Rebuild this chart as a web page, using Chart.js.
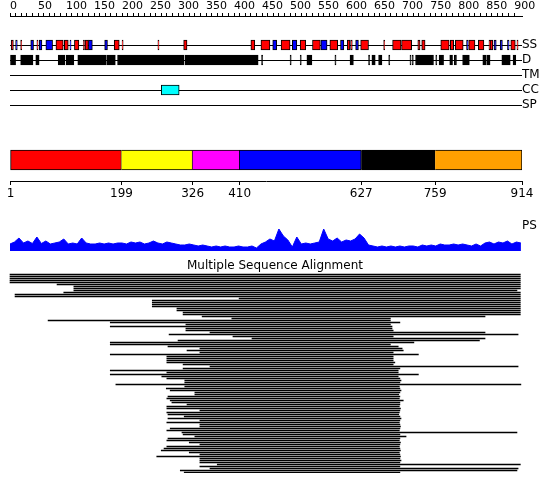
<!DOCTYPE html>
<html>
<head>
<meta charset="utf-8">
<script src="https://cdn.jsdelivr.net/npm/chart.js@4.4.1/dist/chart.umd.min.js"></script>
<style>
  body { margin: 0; background: #fff; }
  #page { position: relative; width: 550px; height: 495px; overflow: hidden; }
  canvas { position: absolute; left: 0; }
</style>
</head>
<body>
<div id="page">
  <canvas id="tracks" width="550" height="115" style="top:0"></canvas>
  <canvas id="domains" width="550" height="65" style="top:140px"></canvas>
  <canvas id="profile" width="550" height="36" style="top:215px"></canvas>
  <canvas id="msa" width="550" height="214" style="top:259px"></canvas>
</div>
<script>
// ---- data (residue numbers) ----
const seqLength = 914;
const trackNames = ["SS", "D", "TM", "CC", "SP"];

// secondary structure: H = helix, E = strand
const ssStart = [2, 10, 19, 37, 48, 52, 64, 82, 97, 107, 115, 131, 134, 140, 169, 186, 200, 264, 310, 430, 448, 469, 484, 504, 518, 540, 555, 571, 590, 602, 608, 617, 626, 667, 683, 699, 728, 735, 769, 786, 795, 815, 819, 836, 855, 857, 864, 875, 888, 894, 905];
const ssEnd   = [6, 13, 21, 42, 50, 57, 76, 95, 104, 109, 123, 133, 140, 147, 174, 195, 202, 266, 316, 437, 464, 476, 500, 512, 528, 554, 566, 585, 596, 607, 611, 622, 640, 669, 698, 717, 732, 741, 784, 792, 809, 818, 830, 846, 857, 862, 868, 879, 891, 902, 907];
const ssType  = ["H", "E", "H", "E", "H", "E", "E", "H", "H", "E", "H", "H", "H", "E", "E", "H", "H", "H", "H", "H", "H", "E", "H", "E", "H", "H", "E", "H", "E", "H", "H", "E", "H", "H", "H", "H", "H", "H", "H", "H", "H", "E", "H", "H", "H", "H", "E", "E", "E", "H", "H"];

// disorder
const disStart = [0, 19, 46, 86, 100, 121, 173, 192, 313, 449, 500, 518, 530, 580, 607, 640, 646, 658, 676, 714, 718, 724, 760, 766, 785, 793, 808, 844, 851, 878, 898];
const disEnd   = [10, 41, 52, 98, 114, 172, 188, 311, 443, 451, 502, 520, 539, 582, 613, 642, 652, 664, 678, 716, 720, 756, 762, 774, 790, 797, 820, 850, 857, 893, 903];

// coiled coil
const ccStart = [270];
const ccEnd   = [302];

// domain boundaries
const domainStart = [1, 199, 326, 410, 627, 759];
const domainEnd   = [199, 326, 410, 627, 759, 914];

// PS profile, one reading every 8 residues
const psStep = 8;
const psValues = [0.28, 0.36, 0.52, 0.32, 0.40, 0.30, 0.56, 0.30, 0.40, 0.28, 0.32, 0.36, 0.48, 0.28, 0.32, 0.28,
  0.52, 0.32, 0.28, 0.28, 0.32, 0.28, 0.32, 0.28, 0.32, 0.32, 0.28, 0.36, 0.32, 0.36, 0.28, 0.32,
  0.40, 0.32, 0.28, 0.36, 0.32, 0.28, 0.24, 0.24, 0.28, 0.24, 0.20, 0.24, 0.20, 0.16, 0.20, 0.16,
  0.20, 0.16, 0.16, 0.20, 0.16, 0.16, 0.20, 0.12, 0.28, 0.36, 0.48, 0.40, 0.88, 0.60, 0.44, 0.16,
  0.56, 0.28, 0.32, 0.28, 0.32, 0.36, 0.88, 0.48, 0.40, 0.52, 0.36, 0.44, 0.40, 0.48, 0.68, 0.52,
  0.24, 0.20, 0.16, 0.20, 0.16, 0.20, 0.16, 0.20, 0.16, 0.20, 0.20, 0.16, 0.24, 0.20, 0.24, 0.20,
  0.28, 0.24, 0.24, 0.28, 0.24, 0.28, 0.24, 0.20, 0.28, 0.20, 0.32, 0.36, 0.28, 0.36, 0.32, 0.40,
  0.28, 0.36, 0.32];

// multiple sequence alignment hits, top to bottom
const msaStart = [0, 0, 0, 0, 0, 84, 114, 114, 114, 96, 9, 9, 409, 254, 254, 254, 254, 298, 298, 309,
  309, 343, 396, 68, 179, 314, 179, 314, 314, 357, 284, 398, 432, 300, 179, 179, 282, 339, 316, 339,
  179, 280, 280, 280, 280, 309, 357, 309, 179, 280, 179, 271, 280, 312, 312, 189, 312, 279, 286, 330,
  330, 282, 280, 286, 289, 316, 280, 280, 339, 280, 282, 311, 282, 339, 280, 339, 339, 286, 280, 307,
  309, 330, 282, 280, 320, 339, 280, 275, 270, 320, 339, 262, 339, 339, 339, 370, 339, 357, 304, 311];
const msaEnd = [911, 911, 911, 911, 911, 911, 911, 911, 905, 911, 911, 911, 911, 911, 911, 911, 911, 911, 911, 911,
  911, 848, 679, 679, 696, 679, 682, 682, 684, 848, 907, 684, 848, 838, 721, 679, 693, 700, 702, 684,
  729, 684, 684, 684, 687, 684, 907, 696, 693, 693, 729, 693, 696, 698, 696, 912, 695, 696, 698, 696,
  694, 696, 695, 702, 696, 696, 695, 697, 696, 695, 694, 696, 698, 696, 695, 696, 697, 696, 695, 905,
  696, 707, 696, 695, 697, 696, 695, 696, 697, 695, 696, 697, 696, 698, 696, 911, 696, 907, 905, 696];

// ---- layout ----
const plotLeft = 10, plotRight = 522;
const pxPerRes = (plotRight - plotLeft) / seqLength;
const font = "'DejaVu Sans', 'Liberation Sans', sans-serif";
Chart.defaults.font.family = font;
Chart.defaults.font.size = 11;
Chart.defaults.color = "#000";

const base = {
  responsive: false,
  animation: false,
  devicePixelRatio: 1,
  events: [],
  plugins: { legend: { display: false }, tooltip: { enabled: false } }
};
const fixedTicks = values => scale => { scale.ticks = values.map(v => ({ value: v })); };
// right-hand label axis: fixed width, no extra space for the labels above/below
const labelAxisFit = scale => {
  scale.width = 550 - plotRight;
  scale.paddingTop = 0;
  scale.paddingBottom = 0;
};

// top ruler + feature tracks
const rulerTicks = [];
for (let v = 0; v <= 900; v += 10) rulerTicks.push(v);

const boxes = [], boxColors = [];
ssStart.forEach((s, i) => {
  boxes.push({ x: [s, ssEnd[i]], y: 0 });
  boxColors.push(ssType[i] === "H" ? "#ff0000" : "#0000ff");
});
disStart.forEach((s, i) => {
  boxes.push({ x: [s, disEnd[i]], y: 1 });
  boxColors.push("#000000");
});
ccStart.forEach((s, i) => {
  boxes.push({ x: [s, ccEnd[i]], y: 3 });
  boxColors.push("#00ffff");
});

// rows are 15px apart, first row at y=45, area 16..112
new Chart(document.getElementById("tracks"), {
  type: "bar",
  data: {
    datasets: [{
      data: boxes,
      backgroundColor: boxColors,
      borderColor: "#000",
      borderWidth: 1,
      borderSkipped: false,
      barThickness: 10
    }]
  },
  options: {
    ...base,
    indexAxis: "y",
    layout: { padding: { left: plotLeft, right: 0, top: 0, bottom: 3 } },
    scales: {
      x: {
        type: "linear", position: "top", min: 0, max: seqLength,
        afterBuildTicks: fixedTicks(rulerTicks),
        afterFit: s => { s.height = 16; },
        ticks: {
          autoSkip: false, maxRotation: 0, minRotation: 0, align: "start", padding: 0,
          callback: v => (v % 50 === 0 ? String(v) : "")
        },
        grid: { drawOnChartArea: false, tickLength: 3, color: "#000" },
        border: { color: "#000" }
      },
      y: {
        type: "linear", position: "right", reverse: true, offset: false,
        min: -29 / 15, max: 4 + 7 / 15,
        afterBuildTicks: fixedTicks(trackNames.map((n, i) => i)),
        afterFit: labelAxisFit,
        ticks: { autoSkip: false, padding: 0, callback: v => trackNames[v], font: { size: 12 } },
        grid: { color: "#000", drawTicks: false, offset: false },
        border: { display: false }
      }
    }
  }
});

// domain bar
const domainColors = ["#ff0000", "#ffff00", "#ff00ff", "#0000ff", "#000000", "#ffa000"];
new Chart(document.getElementById("domains"), {
  type: "bar",
  data: {
    datasets: [{
      data: domainStart.map((s, i) => ({ x: [s, domainEnd[i]], y: 0 })),
      backgroundColor: domainColors,
      borderColor: "#000",
      borderWidth: 1,
      borderSkipped: ctx => (ctx.dataIndex === 0 ? false : "left"),
      barThickness: 20
    }]
  },
  options: {
    ...base,
    indexAxis: "y",
    layout: { padding: { left: plotLeft, right: 550 - plotRight, top: 0, bottom: 0 } },
    scales: {
      x: {
        type: "linear", position: "bottom", min: 0, max: seqLength,
        afterBuildTicks: fixedTicks([domainStart[0], ...domainEnd]),
        afterFit: s => { s.height = 24; },
        ticks: { autoSkip: false, maxRotation: 0, padding: 2, font: { size: 12 } },
        grid: { drawOnChartArea: false, tickLength: 4, color: "#000" },
        border: { color: "#000" }
      },
      y: { type: "linear", display: false, offset: false, min: -1.05, max: 1 }
    }
  }
});

// PS profile
new Chart(document.getElementById("profile"), {
  type: "line",
  data: {
    datasets: [{
      data: psValues.map((v, i) => ({ x: i * psStep, y: v })),
      borderColor: "#0000ff",
      backgroundColor: "#0000ff",
      borderWidth: 1,
      fill: "origin",
      pointRadius: 0,
      tension: 0
    }]
  },
  options: {
    ...base,
    layout: { padding: { left: plotLeft, right: 0, top: 11, bottom: 0 } },
    scales: {
      x: { type: "linear", display: false, min: 0, max: seqLength },
      y: {
        position: "right", min: 0, max: 1,
        afterBuildTicks: fixedTicks([1]),
        afterFit: labelAxisFit,
        ticks: { padding: 0, callback: () => "PS", font: { size: 12 } },
        grid: { display: false, drawTicks: false },
        border: { display: false }
      }
    }
  }
});

// alignment lines, one per row, 2px apart
new Chart(document.getElementById("msa"), {
  type: "bar",
  data: {
    datasets: [{
      data: msaStart.map((s, i) => ({ x: [s, msaEnd[i]], y: i })),
      backgroundColor: "#000",
      borderWidth: 0,
      barThickness: 1
    }]
  },
  options: {
    ...base,
    indexAxis: "y",
    layout: { padding: 0 },
    plugins: {
      ...base.plugins,
      title: {
        display: true,
        text: "Multiple Sequence Alignment",
        color: "#000",
        font: { size: 12, weight: "normal", lineHeight: "14px" },
        padding: 0
      }
    },
    scales: {
      x: { type: "linear", display: false, min: -plotLeft / pxPerRes, max: (550 - plotLeft) / pxPerRes },
      y: { type: "linear", display: false, reverse: true, offset: false, min: -0.75, max: msaStart.length - 0.75 }
    }
  }
});
</script>
</body>
</html>
